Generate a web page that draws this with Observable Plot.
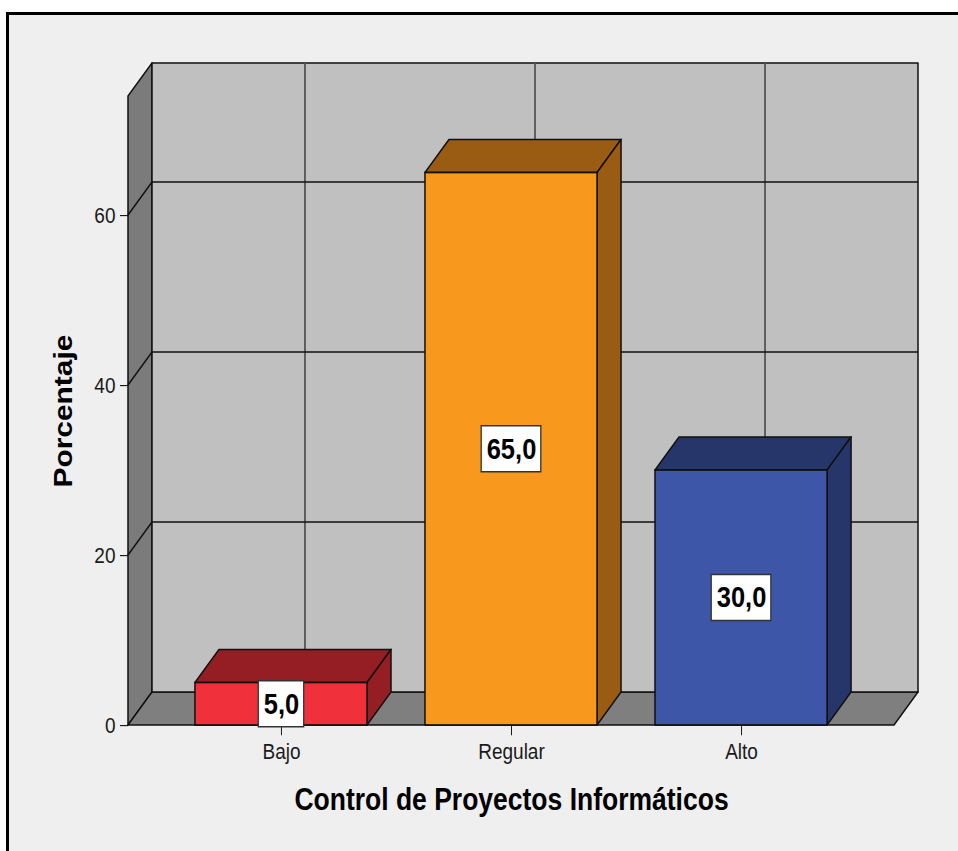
<!DOCTYPE html>
<html>
<head>
<meta charset="utf-8">
<script src="https://cdn.jsdelivr.net/npm/d3@7"></script>
<script src="https://cdn.jsdelivr.net/npm/@observablehq/plot@0.6"></script>
<style>
  html, body { margin: 0; padding: 0; background: #fff; }
  #wrap { position: relative; width: 958px; height: 851px; overflow: hidden; }
  #frame { position: absolute; left: 6px; top: 12px; right: 0; bottom: 0;
           border-left: 3px solid #000; border-top: 3px solid #000; background: #efefef; }
  #chart { position: absolute; left: 0; top: 0; width: 958px;
           transform-origin: 0 0; transform: scaleY(1.15); }
</style>
</head>
<body>
<div id="wrap"><div id="frame"></div><div id="chart"></div></div>
<script>
// Frequency table: Control de Proyectos Informáticos (percent)
const categories = ["Bajo", "Regular", "Alto"];
const percents = [5.0, 65.0, 30.0];
const frontColors = ["#f0313b", "#f8981d", "#3d56a8"];
const shadeColors = ["#951e24", "#9a5b13", "#26356a"];
const yTicks = [0, 20, 40, 60];
const yMax = 74;
const xTitle = "Control de Proyectos Informáticos";
const yTitle = "Porcentaje";

// the chart is drawn slightly compressed and stretched back vertically
const STRETCH = 1.15;
const W = 958, H = 851 / STRETCH;
// depth of the 3D box, in pixels
const DX = 24, DY = -33 / STRETCH;

const fmt = v => d3.format(".1f")(v).replace(".", ",");
const rows = categories.map((c, i) => ({
  category: c, pct: percents[i], front: frontColors[i], shade: shadeColors[i], label: fmt(percents[i])
}));

const NS = "http://www.w3.org/2000/svg";
function node(name, attrs) {
  const e = document.createElementNS(NS, name);
  for (const k in attrs) e.setAttribute(k, attrs[k]);
  return e;
}
function poly(pts, fill, stroke = "#111", sw = 1.5) {
  return node("polygon", {points: pts.map(p => p.join(",")).join(" "), fill, stroke, "stroke-width": sw, "stroke-linejoin": "round"});
}
function seg(x1, y1, x2, y2, stroke = "#111", sw = 1.5) {
  return node("line", {x1, y1, x2, y2, stroke, "stroke-width": sw});
}

// side wall, floor, back wall and gridlines
function walls(index, {x, y}) {
  const [x0, x1] = x.range();
  const y0 = y(0), yT = y(yMax);
  const bw = x.bandwidth ? x.bandwidth() : 0;
  const g = node("g", {});
  g.append(poly([[x0, y0], [x0, yT], [x0 + DX, yT + DY], [x0 + DX, y0 + DY]], "#7b7b7b"));
  g.append(poly([[x0, y0], [x1, y0], [x1 + DX, y0 + DY], [x0 + DX, y0 + DY]], "#7f7f7f"));
  g.append(poly([[x0 + DX, yT + DY], [x1 + DX, yT + DY], [x1 + DX, y0 + DY], [x0 + DX, y0 + DY]], "#c0c0c0"));
  for (const c of categories) {
    const cx = x(c) + bw / 2 + DX;
    g.append(seg(cx, yT + DY, cx, y0 + DY, "#555", 1.8));
  }
  for (const t of yTicks) {
    if (t <= 0) continue;
    g.append(seg(x0 + DX, y(t) + DY, x1 + DX, y(t) + DY));
    g.append(seg(x0, y(t), x0 + DX, y(t) + DY));
  }
  return g;
}

// top and right faces of each bar
function barDepth(index, {x, y}) {
  const bw = x.bandwidth ? x.bandwidth() : 0;
  const g = node("g", {});
  for (const r of rows) {
    const a = x(r.category), b = a + bw, t = y(r.pct), z = y(0);
    g.append(poly([[a, t], [b, t], [b + DX, t + DY], [a + DX, t + DY]], r.shade));
    g.append(poly([[b, t], [b + DX, t + DY], [b + DX, z + DY], [b, z]], r.shade));
  }
  return g;
}

// white boxes behind the value labels
const labelFont = 25.5;
const ctx = document.createElement("canvas").getContext("2d");
ctx.font = `bold ${labelFont}px "Liberation Sans", Arial, sans-serif`;
function labelBoxes(index, {x, y}) {
  const bw = x.bandwidth ? x.bandwidth() : 0;
  const g = node("g", {});
  const h = 46 / STRETCH;
  for (const r of rows) {
    const w = ctx.measureText(r.label).width + 10;
    const cx = x(r.category) + bw / 2, cy = y(r.pct / 2);
    g.append(node("rect", {x: cx - w / 2, y: cy - h / 2, width: w, height: h, fill: "#fff", stroke: "#333", "stroke-width": 1.3}));
  }
  return g;
}

const chart = Plot.plot({
  width: W,
  height: H,
  marginLeft: 128,
  marginRight: 64,
  marginTop: 96 / STRETCH,
  marginBottom: H - 725 / STRETCH,
  style: {background: "transparent", fontFamily: '"Liberation Sans", Arial, sans-serif', fontSize: "19px", color: "#1a1a1a", overflow: "visible"},
  x: {domain: categories, paddingInner: 0.252, paddingOuter: 0.291, round: false, tickSize: 9, tickPadding: 7, label: null},
  y: {domain: [0, yMax], ticks: yTicks, tickSize: 8, tickPadding: 5, label: null},
  color: {type: "identity"},
  marks: [
    walls,
    barDepth,
    Plot.barY(rows, {x: "category", y1: 0, y2: "pct", fill: d => d.front, stroke: "#111", strokeWidth: 1.5}),
    labelBoxes,
    Plot.text(rows, {x: "category", y: d => d.pct / 2, text: "label", fontSize: labelFont, fontWeight: "bold", fill: "#000"}),
    Plot.text([yTitle], {text: d => d, frameAnchor: "left", dx: -65, rotate: -90, textAnchor: "middle", lineAnchor: "middle", fontSize: 26, fontWeight: "bold", fill: "#000"}),
    Plot.text([xTitle], {text: d => d, frameAnchor: "bottom", dy: 695.7 - 725 / STRETCH, textAnchor: "middle", lineAnchor: "middle", fontSize: 26.5, fontWeight: "bold", fill: "#000"})
  ]
});
document.getElementById("chart").append(chart);
</script>
</body>
</html>
